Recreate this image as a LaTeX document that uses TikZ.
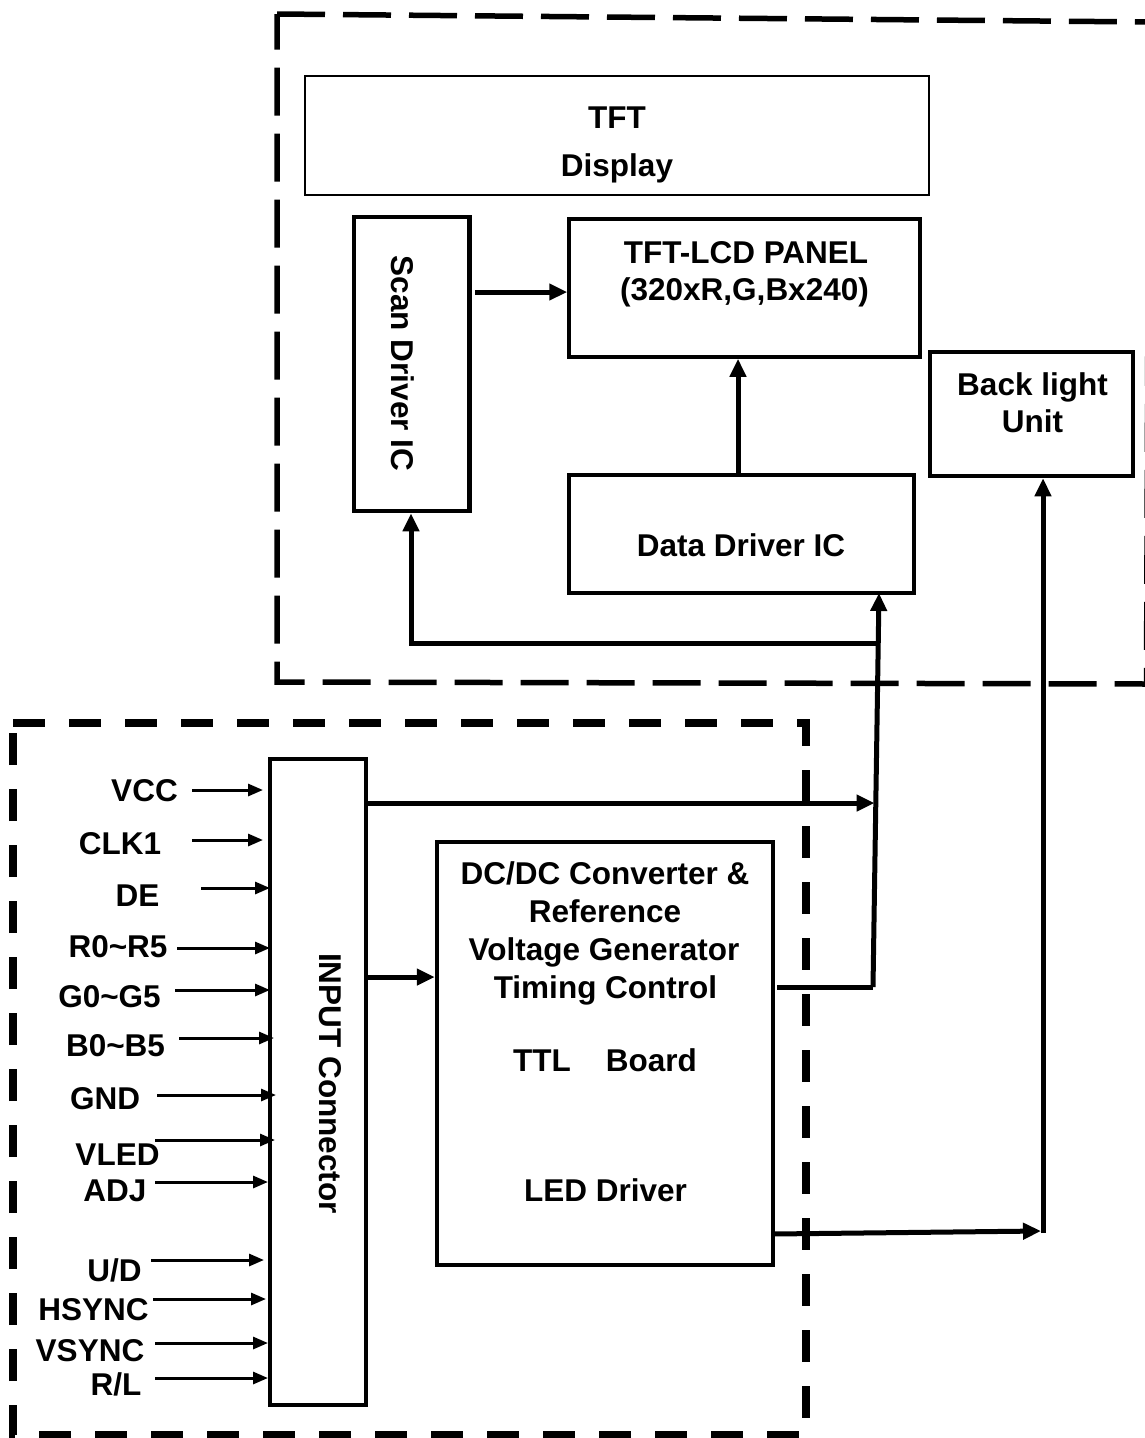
\documentclass[tikz,border=0pt]{standalone}
\usepackage{fontspec}
\setmainfont{Liberation Sans}
\usetikzlibrary{arrows.meta}
\begin{document}
\begin{tikzpicture}[x=1pt,y=-1pt,
  txt/.style={font=\fontsize{31.5}{37}\selectfont\bfseries, inner sep=0pt, anchor=base},
  rtxt/.style={font=\fontsize{31.5}{37}\selectfont\bfseries, inner sep=0pt, anchor=center, rotate=-90},
  box/.style={draw, line width=4.5pt, inner sep=0pt},
  conn/.style={line width=5pt, -{Triangle[length=18pt,width=16pt]}},
  wire/.style={line width=5pt},
  sig/.style={line width=3pt, -{Triangle[length=15pt,width=12pt]}},
  topframe/.style={line width=5.5pt, dash pattern=on 48pt off 18pt},
  botframe/.style={line width=7.5pt, dash pattern=on 32pt off 24pt}
]
\useasboundingbox (0,0) rectangle (1145,1438);
\clip (0,0) rectangle (1145,1438);
\fill[white] (0,0) rectangle (1145,1438);

% dashed frames
\draw[topframe] (277,14) -- (1149,22) -- (1146.5,684) -- (277,682) -- cycle;
\draw[botframe] (13,723) -- (806,723) -- (806,1435) -- (13,1435) -- cycle;

% boxes
\node[box, line width=2pt, minimum width=624pt, minimum height=119pt] (disp) at (617,135.5) {};
\node[box, minimum width=115.5pt, minimum height=294pt] (scan) at (411.75,364) {};
\node[box, line width=3.5pt, minimum width=351pt, minimum height=138pt] (panel) at (744.5,288) {};
\node[box, line width=4pt, minimum width=345pt, minimum height=118pt] (data) at (741.5,534) {};
\node[box, minimum width=203pt, minimum height=124pt] (back) at (1031.5,414) {};
\node[box, minimum width=96pt, minimum height=646pt] (inp) at (318,1082) {};
\node[box, minimum width=336pt, minimum height=423pt] (dcdc) at (605,1053.5) {};

% box texts
\node[txt] (dispA) at (617,128) {TFT};
\node[txt] (dispB) at (617,176) {Display};
\node[txt] (panA) at (746,263) {TFT-LCD PANEL};
\node[txt] (panB) at (744.5,300) {(320xR,G,Bx240)};
\node[txt] (backA) at (1032.5,395) {Back light};
\node[txt] (backB) at (1032.5,432) {Unit};
\node[txt] (dataT) at (741,556) {Data Driver IC};
\node[rtxt] (scanT) at (402.5,363.5) {Scan Driver IC};
\node[rtxt] (inpT) at (330,1083.5) {INPUT Connector};
\node[txt] (dcA) at (605,884) {DC/DC Converter \&};
\node[txt] (dcB) at (605,922.5) {Reference};
\node[txt] (dcC) at (604,960) {Voltage Generator};
\node[txt] (dcD) at (605.5,998) {Timing Control};
\node[txt] (dcE) at (605,1071.6) {TTL~~~~Board};
\node[txt] (dcF) at (605.5,1201) {LED Driver};

% connectors, upper part
\coordinate (sp) at (475,292);
\draw[conn] (sp) -- (panel.west |- sp);
\coordinate (dp) at (738,475);
\draw[conn] (dp) -- (panel.south -| dp);

\coordinate (tcs) at (777,987);
\coordinate (tc) at (873,987);
\coordinate (dd) at (879,593);
\coordinate (bj) at (877.5,643);
\coordinate (bl) at (411,643);
\draw[wire] (tcs) -- (tc);
\draw[conn] (tc) -- (dd);
\draw[line width=5pt, -{Triangle[length=18pt,width=16pt]}] (bj) -- (bl) -- (scan.south -| bl);

\coordinate (it) at (366,803);
\coordinate (ite) at (874.5,803);
\draw[conn] (it) -- (ite);
\coordinate (idc) at (366,977);
\draw[conn] (idc) -- (dcdc.west |- idc);

\coordinate (ls) at (773,1234);
\coordinate (le) at (1041,1231);
\coordinate (lv) at (1043,1233);
\draw[conn] (ls) -- (le);
\draw[conn] (lv) -- (back.south -| lv);

% input signals
\foreach \n/\lab/\lx/\lb/\xa/\xb/\yy in {
  a/VCC/144.5/801.3/192/263/790,
  b/CLK1/120/854/192/263/840,
  c/DE/137.5/906/201/270/888,
  d/R0\textasciitilde R5/118/957/177/270/948,
  e/G0\textasciitilde G5/109.5/1007/175/270/990,
  f/B0\textasciitilde B5/115.5/1056/179/274/1038,
  g/GND/105/1109/157/276/1095,
  h/VLED/117.5/1165/155/275/1140,
  i/ADJ/115/1201/155/268/1182,
  j/U\slash D/114.5/1281/151/264/1260,
  k/HSYNC/93.5/1320/153/266/1299,
  l/VSYNC/90/1361/155/268/1343,
  m/R\slash L/116/1395/155/268/1378}{
  \node[txt] (lab\n) at (\lx,\lb) {\lab};
  \coordinate (s\n) at (\xa,\yy);
  \coordinate (e\n) at (\xb,\yy);
  \draw[sig] (s\n) -- (e\n);
}
\end{tikzpicture}
\end{document}
